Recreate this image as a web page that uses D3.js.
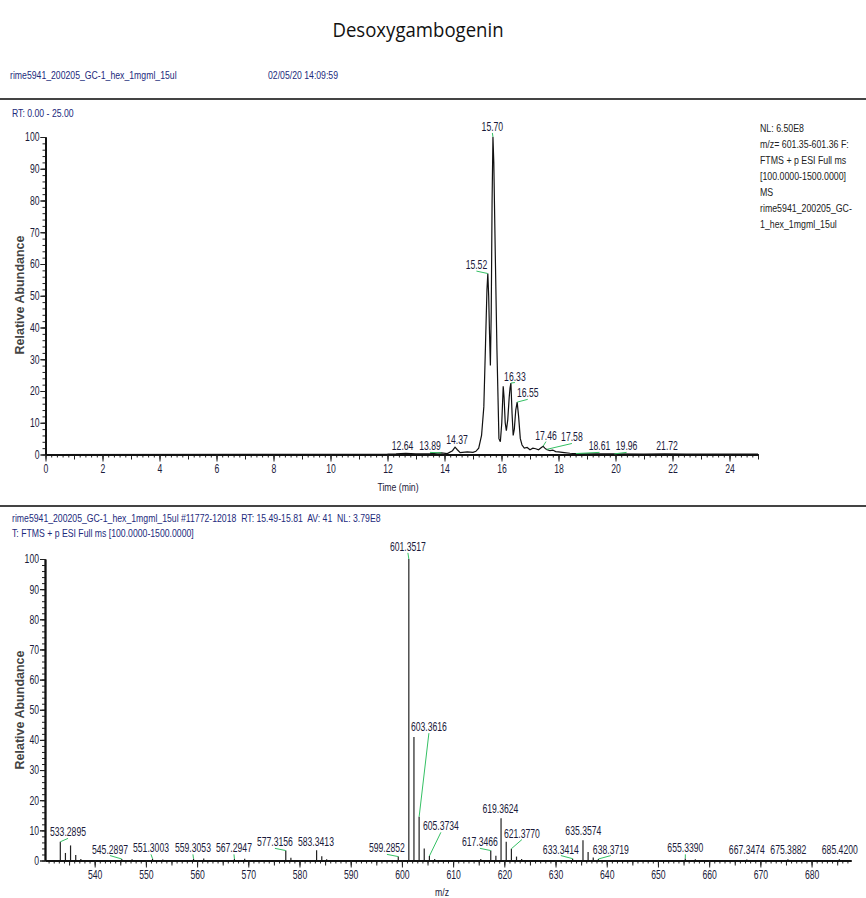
<!DOCTYPE html>
<html>
<head>
<meta charset="utf-8">
<script src="https://cdn.jsdelivr.net/npm/d3@7"></script>
<style>
  body { margin: 0; background: #fff; }
  svg { display: block; }
</style>
</head>
<body>
<svg id="chart"></svg>
<script>
/* Chromatogram trace (time in min, relative abundance) */
const rtTime = [0, 12.0, 12.3, 12.64, 13.0, 13.5, 13.89, 14.1, 14.28, 14.37, 14.45, 14.55, 14.8, 15.0, 15.1, 15.2,
  15.3, 15.38, 15.44, 15.49, 15.52, 15.55, 15.58, 15.61, 15.64, 15.67, 15.70, 15.73, 15.78, 15.84, 15.91,
  15.96, 16.01, 16.06, 16.09, 16.13, 16.17, 16.22, 16.27, 16.30, 16.33, 16.37, 16.41, 16.45, 16.50, 16.55,
  16.60, 16.66, 16.72, 16.80, 16.90, 17.0, 17.1, 17.2, 17.3, 17.4, 17.46, 17.52, 17.58, 17.7, 17.8, 17.9,
  18.0, 18.2, 18.4, 18.61, 19.0, 19.96, 21.0, 21.72, 22.5, 25.0];
const rtAbund = [0, 0.1, 0.2, 0.4, 0.2, 0.3, 0.5, 0.3, 1.2, 2.3, 1.5, 0.6, 0.8, 0.7, 1.0, 2.0,
  6, 15, 35, 52, 57, 50, 38, 28, 45, 80, 100, 92, 64, 33, 5,
  4, 10, 21.5, 18, 10, 7.5, 11, 18, 21, 22.5, 13, 6, 8, 14, 16.5,
  12, 5, 3, 2, 2.2, 1.5, 2.0, 1.8, 1.5, 2.2, 2.6, 2.0, 1.6, 1.2, 1.4, 0.9,
  0.8, 0.6, 0.4, 0.3, 0.2, 0.2, 0.1, 0.2, 0.1, 0.1];

/* Chromatogram peak labels: text, label centre time, label baseline abundance */
const rtLabels = ["12.64", "13.89", "14.37", "15.52", "15.70", "16.33", "16.55", "17.46", "17.58", "18.61", "19.96", "21.72"];
const rtLabelT = [12.53, 13.49, 14.44, 15.12, 15.68, 16.47, 16.92, 17.56, 18.47, 19.44, 20.39, 21.81];
const rtLabelI = [1.3, 1.3, 3.2, 58.4, 101.9, 23.3, 18, 4.7, 4.1, 1.3, 1.3, 1.3];

/* Mass spectrum sticks (m/z, relative abundance) */
const msMz = [533.29, 534.29, 535.29, 536.30, 537.30, 545.29, 547.30, 551.30, 553.30, 559.31, 561.30, 567.29,
  569.30, 577.32, 578.32, 583.34, 584.35, 585.30, 599.29, 601.35, 602.35, 603.36, 604.36, 605.37, 606.40,
  615.40, 617.35, 618.35, 619.36, 620.37, 621.38, 622.38, 623.38, 633.34, 635.36, 636.36, 637.36, 638.37,
  655.34, 657.30, 667.35, 675.39, 685.42];
const msAbund = [6.2, 2.5, 5.0, 1.8, 0.5, 0.5, 0.4, 0.6, 0.3, 0.6, 0.7, 0.5,
  0.6, 3.3, 0.9, 3.4, 1.4, 0.4, 1.3, 100, 41, 14.5, 4.0, 1.5, 0.5,
  0.5, 3.3, 1.6, 14, 6.2, 3.9, 1.3, 0.5, 0.6, 6.7, 2.8, 1.0, 0.5,
  0.7, 0.4, 0.3, 0.4, 0.4];

/* Spectrum peak labels: text, label centre m/z, label baseline abundance */
const msLabels = ["533.2895", "545.2897", "551.3003", "559.3053", "567.2947", "577.3156", "583.3413", "599.2852",
  "601.3517", "603.3616", "605.3734", "617.3466", "619.3624", "621.3770", "633.3414", "635.3574", "638.3719",
  "655.3390", "667.3474", "675.3882", "685.4200"];
const msLabelMz = [534.79, 542.99, 551.0, 559.19, 567.2, 575.2, 583.21, 597.07,
  601.17, 605.27, 607.61, 615.23, 619.23, 623.43, 631.04, 635.43, 640.8,
  655.35, 667.36, 675.46, 685.51];
const msLabelI = [8.0, 2.3, 2.7, 2.7, 2.7, 4.7, 4.7, 2.7,
  102.7, 42.9, 10.0, 4.7, 15.6, 7.6, 2.3, 8.3, 2.3,
  2.7, 2.0, 2.0, 2.0];

const headerTop = ["rime5941_200205_GC-1_hex_1mgml_15ul", "02/05/20 14:09:59"];
const rtInfo = ["NL: 6.50E8", "m/z= 601.35-601.36 F:", "FTMS + p ESI Full ms", "[100.0000-1500.0000]",
  "MS", "rime5941_200205_GC-", "1_hex_1mgml_15ul"];
const msHeader = ["rime5941_200205_GC-1_hex_1mgml_15ul #11772-12018  RT: 15.49-15.81  AV: 41  NL: 3.79E8",
  "T: FTMS + p ESI Full ms [100.0000-1500.0000]"];

// no narrow font installed, so Liberation Sans is squeezed horizontally
const FONT = "'Liberation Sans',Arial,sans-serif";
const SQ = 0.72;   // squeeze for 12px labels
const SQH = 0.79;  // squeeze for 11px header text
const NAVY = "#1c2a7c";
const INK = "#1a1a3a";
const GREEN = "#35c064";

const width = 866, height = 898;
const svg = d3.select("#chart").attr("width", width).attr("height", height);
svg.append("rect").attr("width", width).attr("height", height).attr("fill", "#fff");

// squeezed text anchored at (x, y)
function ntext(g, x, y, s, size, k, fill, anchor) {
  return g.append("text")
    .attr("transform", `translate(${x},${y}) scale(${k},1)`)
    .attr("text-anchor", anchor || "start")
    .attr("font-family", FONT).attr("font-size", size).attr("fill", fill)
    .attr("xml:space", "preserve")
    .text(s);
}

// title and page header
svg.append("text").attr("transform", "translate(418,37) scale(0.93,1)").attr("text-anchor", "middle")
  .attr("font-family", "'Open Sans',sans-serif").attr("font-size", 20).attr("fill", "#111")
  .text("Desoxygambogenin");

ntext(svg, 10, 79, headerTop[0], 11, SQH, NAVY);
ntext(svg, 268, 79, headerTop[1], 11, SQH, NAVY);

[99, 506].forEach(y => {
  svg.append("line").attr("x1", 0).attr("x2", width).attr("y1", y).attr("y2", y)
    .attr("stroke", "#444").attr("stroke-width", 2);
});

// tiered axes: minor / medium / labelled ticks
function drawAxis(g, axisFn, scale, minor, medium, major, left) {
  g.append("g").call(axisFn(scale).tickValues(minor).tickSize(3).tickSizeOuter(0).tickFormat(""));
  g.append("g").call(axisFn(scale).tickValues(medium).tickSize(5).tickSizeOuter(0).tickFormat(""));
  const lab = g.append("g").call(axisFn(scale).tickValues(major).tickSize(left ? 5 : 7)
    .tickSizeOuter(0).tickFormat(d3.format("d")));
  g.selectAll("path.domain").attr("stroke", "#111").attr("stroke-width", 1.6);
  g.selectAll(".tick line").attr("stroke", "#222");
  lab.selectAll("text").attr("font-family", FONT).attr("font-size", 12).attr("fill", INK);
  if (left) {
    lab.selectAll("text").attr("x", 0).attr("transform", `translate(-6,0) scale(${SQ},1)`);
  } else {
    lab.selectAll("text").attr("transform", `scale(${SQ},1)`);
  }
}

function range(a, b, s) {
  return d3.range(Math.round(a / s), Math.round(b / s) + 1).map(i => +(i * s).toFixed(4));
}

function drawLabels(g, x, y, texts, lx, ly, px, py) {
  texts.forEach((t, i) => {
    const cx = x(lx[i]), by = y(ly[i]);
    const pX = x(px[i]), pY = y(py[i]);
    if (Math.hypot(cx - pX, by + 2 - pY) > 4) {
      g.append("line").attr("x1", cx).attr("y1", by + 2).attr("x2", pX).attr("y2", pY)
        .attr("stroke", GREEN).attr("stroke-width", 1);
    }
    ntext(g, cx, by, t, 12, SQ, INK, "middle");
  });
}

function relLabel(x, y) {
  svg.append("text").attr("transform", `translate(${x},${y}) rotate(-90)`).attr("text-anchor", "middle")
    .attr("font-family", FONT).attr("font-weight", "bold")
    .attr("font-size", 12.5).attr("fill", "#444").text("Relative Abundance");
}

/* ---------- chromatogram ---------- */
const xT = d3.scaleLinear().domain([0, 25]).range([45.5, 758]);
const yT = d3.scaleLinear().domain([0, 100]).range([454.5, 137]);
const topG = svg.append("g");

ntext(topG, 12, 117, "RT: 0.00 - 25.00", 11, SQH, NAVY);
rtInfo.forEach((s, i) => ntext(topG, 760, 132 + i * 16, s, 11, 0.8, "#222"));

const rtTrace = rtTime.map((t, i) => [t, rtAbund[i]]);
topG.append("path").datum(rtTrace)
  .attr("d", d3.line().x(d => xT(d[0])).y(d => yT(d[1])))
  .attr("fill", "none").attr("stroke", "#111").attr("stroke-width", 1.2);

drawAxis(topG.append("g").attr("transform", `translate(0,${yT(0)})`), d3.axisBottom, xT,
  range(0, 25, 0.2), range(0, 25, 1), range(0, 24, 2), false);
drawAxis(topG.append("g").attr("transform", `translate(${xT(0)},0)`), d3.axisLeft, yT,
  range(0, 100, 2), range(0, 100, 10), range(0, 100, 10), true);

const rtPeakT = rtLabels.map(Number);
const abundAt = t => {
  const i = d3.bisector(d => d).left(rtTime, t);
  if (i <= 0) return rtAbund[0];
  const t0 = rtTime[i - 1], t1 = rtTime[i];
  return rtAbund[i - 1] + (rtAbund[i] - rtAbund[i - 1]) * (t - t0) / (t1 - t0);
};
drawLabels(topG, xT, yT, rtLabels, rtLabelT, rtLabelI, rtPeakT, rtPeakT.map(abundAt));

ntext(topG, 398, 491, "Time (min)", 11, SQH, INK, "middle");
relLabel(24, 295);

/* ---------- mass spectrum ---------- */
const xB = d3.scaleLinear().domain([530.3, 687.7]).range([45, 851]);
const yB = d3.scaleLinear().domain([0, 100]).range([860.5, 559]);
const botG = svg.append("g");

msHeader.forEach((s, i) => ntext(botG, 12, 522 + i * 15, s, 11, SQH, NAVY));

botG.selectAll("line.stick").data(msMz).enter().append("line")
  .attr("class", "stick")
  .attr("x1", d => xB(d)).attr("x2", d => xB(d))
  .attr("y1", yB(0)).attr("y2", (d, i) => yB(msAbund[i]))
  .attr("stroke", "#222").attr("stroke-width", 1.2);

drawAxis(botG.append("g").attr("transform", `translate(0,${yB(0)})`), d3.axisBottom, xB,
  range(531, 687, 1), range(535, 685, 5), range(540, 680, 10), false);
drawAxis(botG.append("g").attr("transform", `translate(${xB(530.3)},0)`), d3.axisLeft, yB,
  range(0, 100, 2), range(0, 100, 10), range(0, 100, 10), true);

const msPeakMz = msLabels.map(Number);
const msPeakI = msPeakMz.map(m => msAbund[d3.minIndex(msMz, v => Math.abs(v - m))]);
drawLabels(botG, xB, yB, msLabels, msLabelMz, msLabelI, msPeakMz, msPeakI);

ntext(botG, 442, 896, "m/z", 11, SQH, INK, "middle");
relLabel(24, 710);
</script>
</body>
</html>
